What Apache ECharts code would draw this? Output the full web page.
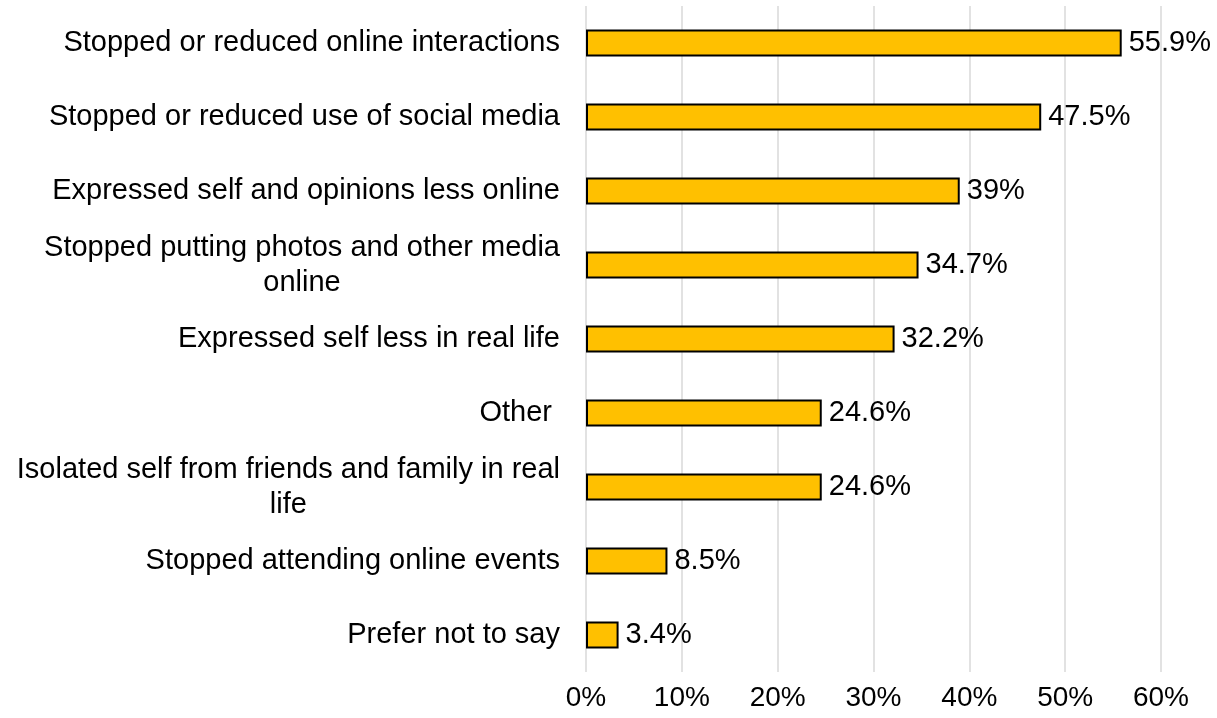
<!DOCTYPE html>
<html>
<head>
<meta charset="utf-8">
<script src="https://cdn.jsdelivr.net/npm/echarts@6/dist/echarts.min.js"></script>
<style>
  html, body { margin: 0; padding: 0; background: #fff; }
  #chart { width: 1217px; height: 718px; }
</style>
</head>
<body>
<div id="chart"></div>
<script>
// Responses, in percent of respondents
const categories = [
  'Stopped or reduced online interactions',
  'Stopped or reduced use of social media',
  'Expressed self and opinions less online',
  'Stopped putting photos and other media\nonline',
  'Expressed self less in real life',
  'Other ',
  'Isolated self from friends and family in real\nlife',
  'Stopped attending online events',
  'Prefer not to say'
];
const values = [55.9, 47.5, 39, 34.7, 32.2, 24.6, 24.6, 8.5, 3.4];
const valueLabels = ['55.9%', '47.5%', '39%', '34.7%', '32.2%', '24.6%', '24.6%', '8.5%', '3.4%'];
const axisMin = 0, axisMax = 60, axisStep = 10;

const FONT = '"Liberation Sans", Arial, sans-serif';
const chart = echarts.init(document.getElementById('chart'), null, { renderer: 'canvas' });

chart.setOption({
  animation: false,
  backgroundColor: '#ffffff',
  grid: { left: 586, right: 56, top: 6, bottom: 46, containLabel: false },
  xAxis: {
    type: 'value',
    min: axisMin, max: axisMax, interval: axisStep,
    axisLine: { show: false },
    axisTick: { show: false },
    axisLabel: {
      formatter: '{value}%',
      color: '#000', fontSize: 28, fontFamily: FONT, margin: 12
    },
    splitLine: { show: true, lineStyle: { color: '#d9d9d9', width: 1.5 } }
  },
  yAxis: {
    type: 'category',
    inverse: true,
    data: categories,
    axisLine: { show: false },
    axisTick: { show: false },
    axisLabel: {
      margin: 26,
      align: 'right',
      color: '#000', fontSize: 29, fontFamily: FONT, lineHeight: 35,
      formatter: v => v.split('\n').map(s => '{c|' + s + '}').join('\n'),
      rich: { c: { align: 'center', color: '#000', fontSize: 29, fontFamily: FONT, lineHeight: 35 } }
    }
  },
  series: [{
    type: 'bar',
    data: values,
    barWidth: 27,
    itemStyle: { color: '#ffc000', borderColor: '#000', borderWidth: 2 },
    label: {
      show: true,
      position: 'right',
      distance: 7,
      color: '#000', fontSize: 29, fontFamily: FONT,
      formatter: p => valueLabels[p.dataIndex]
    }
  }]
});
</script>
</body>
</html>
